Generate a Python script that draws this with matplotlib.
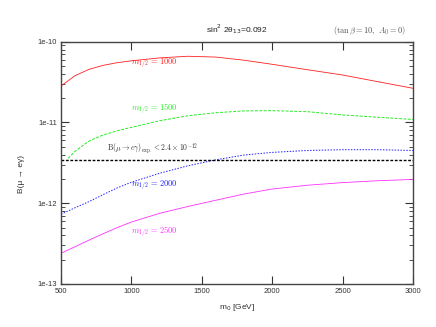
import numpy as np
import matplotlib
matplotlib.use("Agg")
import matplotlib.pyplot as plt
from matplotlib.ticker import LogLocator, FixedLocator, NullFormatter

plt.rcParams['font.family'] = ['Liberation Sans', 'DejaVu Sans']
plt.rcParams['mathtext.fontset'] = 'cm'

# m0 grid (GeV)
m0 = [500, 600, 700, 800, 900, 1000, 1200, 1400, 1600, 1800, 2000, 2250, 2500, 2750, 3000]
m0_green = [550, 600, 700, 800, 900, 1000, 1200, 1400, 1600, 1800, 2000, 2250, 2500, 2750, 3000]

# B(mu -> e gamma)
br_1000 = [2.83e-11, 3.8e-11, 4.55e-11, 5.1e-11, 5.5e-11, 5.8e-11, 6.3e-11, 6.6e-11,
           6.45e-11, 5.9e-11, 5.25e-11, 4.5e-11, 3.87e-11, 3.2e-11, 2.65e-11]
br_1500 = [3.6e-12, 4.4e-12, 5.9e-12, 7.0e-12, 7.9e-12, 8.7e-12, 1.05e-11, 1.21e-11,
           1.32e-11, 1.39e-11, 1.4e-11, 1.36e-11, 1.24e-11, 1.16e-11, 1.09e-11]
br_2000 = [7.3e-13, 8.8e-13, 1.05e-12, 1.28e-12, 1.55e-12, 1.82e-12, 2.35e-12, 2.9e-12,
           3.45e-12, 3.95e-12, 4.26e-12, 4.5e-12, 4.6e-12, 4.6e-12, 4.5e-12]
br_2500 = [2.4e-13, 2.9e-13, 3.5e-13, 4.2e-13, 5.0e-13, 5.85e-13, 7.5e-13, 9.1e-13,
           1.09e-12, 1.3e-12, 1.5e-12, 1.67e-12, 1.8e-12, 1.9e-12, 1.97e-12]
br_exp = 3.42e-12

fig = plt.figure(figsize=(4.36, 3.27), dpi=100)
ax = fig.add_axes([0.140, 0.1315, 0.807, 0.741])

ax.plot(m0, br_1000, color='#ff2020', lw=0.6, ls='-')
ax.plot(m0_green, br_1500, color='#22ee22', lw=0.7, ls=(0, (3, 1.5)))
ax.plot(m0, br_2000, color='#2020ff', lw=0.7, ls=(0, (1.5, 1.5)))
ax.plot(m0, br_2500, color='#ff30ff', lw=0.6, ls='-')
ax.axhline(br_exp, color='black', lw=1.0, ls=(0, (2, 1.2)))

ax.set_yscale('log')
ax.set_xlim(500, 3000)
ax.set_ylim(1e-13, 1e-10)

ax.xaxis.set_major_locator(FixedLocator([500, 1000, 1500, 2000, 2500, 3000]))
ax.yaxis.set_major_locator(FixedLocator([1e-13, 1e-12, 1e-11, 1e-10]))
ax.set_yticklabels(['1e-13', '1e-12', '1e-11', '1e-10'])
ax.yaxis.set_minor_locator(LogLocator(base=10, subs=np.arange(2, 10)))
ax.yaxis.set_minor_formatter(NullFormatter())
ax.tick_params(which='both', direction='in', top=True, right=True,
               labelsize=5.5, colors='#333333', pad=3)
ax.tick_params(which='major', length=6, width=0.8)
ax.tick_params(which='minor', length=3, width=0.6)
for s in ax.spines.values():
    s.set_linewidth(1.0)
    s.set_color('#444444')

ax.text(1000, 5.3e-11, r'$m_{1/2}\,=\,1000$', color='#ff2020', fontsize=6, va='center')
ax.text(1000, 1.43e-11, r'$m_{1/2}\,=\,1500$', color='#22ee22', fontsize=6, va='center')
ax.text(1000, 1.63e-12, r'$m_{1/2}\,=\,2000$', color='#2020ff', fontsize=6, va='center')
ax.text(1000, 4.39e-13, r'$m_{1/2}\,=\,2500$', color='#ff30ff', fontsize=6, va='center')
ax.text(827, 4.72e-12, r'$\mathrm{B}(\mu\to e\gamma)_{\mathrm{exp.}}<2.4\times10^{-12}$',
        color='#333333', fontsize=5.5, va='center')

fig.text(0.543, 0.911, r'sin$^2$ 2θ$_{13}$=0.092', ha='center', va='center',
         fontsize=6, color='#222222', math_fontfamily='dejavusans')
fig.text(0.931, 0.905, r'$(\tan\beta = 10,\ A_0 = 0)$', ha='right', va='center',
         fontsize=6, color='#555555')

ax.set_xlabel(r'm$_0$ [GeV]', fontsize=6, color='#333333', labelpad=5,
              math_fontfamily='dejavusans')
fig.text(0.05, 0.468, r'B(μ → eγ)', rotation=90, ha='center', va='center',
         fontsize=6, color='#333333')

fig.savefig('out.png', dpi=100)
